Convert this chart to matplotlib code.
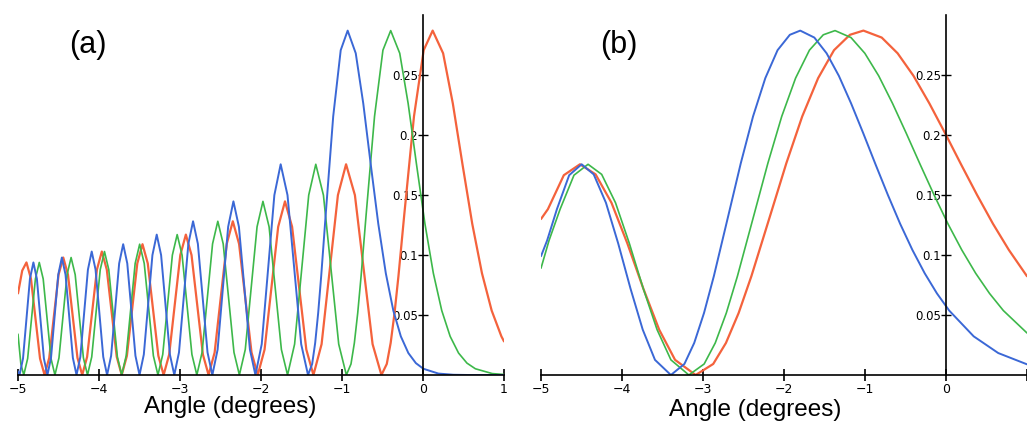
import numpy as np
import matplotlib
matplotlib.use("Agg")
import matplotlib.pyplot as plt

# panel (a)
blue_a_x = [-5.0, -4.9809, -4.9382, -4.8954, -4.8527, -4.8099, -4.7667, -4.7235, -4.6802, -4.6370,
            -4.5924, -4.5478, -4.5031, -4.4585, -4.4132, -4.3680, -4.3227, -4.2774,
            -4.2305, -4.1837, -4.1368, -4.0900, -4.0425, -3.9951, -3.9476, -3.9001,
            -3.8504, -3.8008, -3.7511, -3.7015, -3.6510, -3.6006, -3.5501, -3.4997,
            -3.4466, -3.3936, -3.3405, -3.2874, -3.2332, -3.1789, -3.1247, -3.0704,
            -3.0125, -2.9546, -2.8967, -2.8388, -2.7793, -2.7197, -2.6602, -2.6006,
            -2.5356, -2.4706, -2.4055, -2.3405, -2.2726, -2.2047, -2.1368, -2.0689,
            -1.9910, -1.9131, -1.8351, -1.7572, -1.6728, -1.5884, -1.5039, -1.4195,
            -1.3683, -1.3312, -1.2941, -1.2570, -1.2014, -1.1086, -1.0158, -0.9301, -0.8303, -0.7375,
            -0.6448, -0.5520, -0.4592, -0.3665, -0.2737, -0.1809, -0.0882, 0.0046, 0.1901, 0.3756, 0.5612, 1.0]
blue_a_y = [0.003, 0.0, 0.0137, 0.0469, 0.0801, 0.0938, 0.0801, 0.0469, 0.0137, 0.0,
            0.0143, 0.0490, 0.0836, 0.0979, 0.0836, 0.0490, 0.0143, 0.0,
            0.0151, 0.0515, 0.0878, 0.1029, 0.0878, 0.0515, 0.0151, 0.0,
            0.0160, 0.0545, 0.0930, 0.1090, 0.0930, 0.0545, 0.0160, 0.0,
            0.0171, 0.0585, 0.0999, 0.1170, 0.0999, 0.0585, 0.0171, 0.0,
            0.0188, 0.0641, 0.1093, 0.1281, 0.1093, 0.0641, 0.0188, 0.0,
            0.0212, 0.0724, 0.1235, 0.1447, 0.1235, 0.0724, 0.0212, 0.0,
            0.0257, 0.0878, 0.1499, 0.1756, 0.1499, 0.0878, 0.0257, 0.0,
            0.0092, 0.0267, 0.0517, 0.0823, 0.1336, 0.2155, 0.2707, 0.2870, 0.2681, 0.2263,
            0.1753, 0.1260, 0.0848, 0.0537, 0.0322, 0.0183, 0.0099, 0.0052, 0.0012, 0.0002, 0.0, 0.0]

green_a_x = [-5.0, -4.9644, -4.9287, -4.8809, -4.8331, -4.7852, -4.7374, -4.6890, -4.6407, -4.5924, -4.5440,
             -4.4941, -4.4443, -4.3944, -4.3445, -4.2939, -4.2433, -4.1926, -4.1420,
             -4.0896, -4.0372, -3.9848, -3.9324, -3.8793, -3.8262, -3.7731, -3.7200,
             -3.6645, -3.6090, -3.5535, -3.4980, -3.4416, -3.3852, -3.3287, -3.2723,
             -3.2130, -3.1536, -3.0943, -3.0349, -2.9742, -2.9136, -2.8529, -2.7922,
             -2.7275, -2.6628, -2.5980, -2.5333, -2.4667, -2.4001, -2.3335, -2.2669,
             -2.1942, -2.1215, -2.0487, -1.9760, -1.9001, -1.8242, -1.7482, -1.6723,
             -1.5852, -1.4980, -1.4109, -1.3237, -1.2293, -1.1349, -1.0405, -0.9461,
             -0.8889, -0.8474, -0.8059, -0.7644, -0.7021, -0.5984, -0.4947, -0.3988, -0.2872, -0.1835,
             -0.0797, 0.0240, 0.1277, 0.2315, 0.3352, 0.4389, 0.5427, 0.6464, 0.8539, 1.0]
green_a_y = [0.034, 0.009, 0.0, 0.0137, 0.0469, 0.0801, 0.0938, 0.0801, 0.0469, 0.0137, 0.0,
             0.0143, 0.0490, 0.0836, 0.0979, 0.0836, 0.0490, 0.0143, 0.0,
             0.0151, 0.0515, 0.0878, 0.1029, 0.0878, 0.0515, 0.0151, 0.0,
             0.0160, 0.0545, 0.0930, 0.1090, 0.0930, 0.0545, 0.0160, 0.0,
             0.0171, 0.0585, 0.0999, 0.1170, 0.0999, 0.0585, 0.0171, 0.0,
             0.0188, 0.0641, 0.1093, 0.1281, 0.1093, 0.0641, 0.0188, 0.0,
             0.0212, 0.0724, 0.1235, 0.1447, 0.1235, 0.0724, 0.0212, 0.0,
             0.0257, 0.0878, 0.1499, 0.1756, 0.1499, 0.0878, 0.0257, 0.0,
             0.0092, 0.0267, 0.0517, 0.0823, 0.1336, 0.2155, 0.2707, 0.2870, 0.2681, 0.2263,
             0.1753, 0.1260, 0.0848, 0.0537, 0.0322, 0.0183, 0.0099, 0.0052, 0.0012, 0.0004]

red_a_x = [-5.0, -4.948, -4.8956, -4.8397, -4.7839, -4.7280, -4.6721,
           -4.6144, -4.5568, -4.4991, -4.4414, -4.3829, -4.3244, -4.2658, -4.2073,
           -4.1468, -4.0862, -4.0257, -3.9651, -3.9037, -3.8424, -3.7810, -3.7196,
           -3.6555, -3.5913, -3.5272, -3.4630, -3.3978, -3.3326, -3.2673, -3.2021,
           -3.1335, -3.0649, -2.9963, -2.9277, -2.8576, -2.7875, -2.7173, -2.6472,
           -2.5724, -2.4976, -2.4227, -2.3479, -2.2709, -2.1940, -2.1170, -2.0400,
           -1.9560, -1.8719, -1.7879, -1.7038, -1.6160, -1.5283, -1.4405, -1.3527,
           -1.2520, -1.1513, -1.0505, -0.9498, -0.8407, -0.7316, -0.6224, -0.5133,
           -0.4472, -0.3992, -0.3512, -0.3033, -0.2313, -0.1114, 0.0085, 0.1193,
           0.2483, 0.3682, 0.4881, 0.6080, 0.7279, 0.8478, 0.9677, 1.0]
red_a_y = [0.068, 0.087, 0.0938, 0.0801, 0.0469, 0.0137, 0.0,
           0.0143, 0.0490, 0.0836, 0.0979, 0.0836, 0.0490, 0.0143, 0.0,
           0.0151, 0.0515, 0.0878, 0.1029, 0.0878, 0.0515, 0.0151, 0.0,
           0.0160, 0.0545, 0.0930, 0.1090, 0.0930, 0.0545, 0.0160, 0.0,
           0.0171, 0.0585, 0.0999, 0.1170, 0.0999, 0.0585, 0.0171, 0.0,
           0.0188, 0.0641, 0.1093, 0.1281, 0.1093, 0.0641, 0.0188, 0.0,
           0.0212, 0.0724, 0.1235, 0.1447, 0.1235, 0.0724, 0.0212, 0.0,
           0.0257, 0.0878, 0.1499, 0.1756, 0.1499, 0.0878, 0.0257, 0.0,
           0.0092, 0.0267, 0.0517, 0.0823, 0.1336, 0.2155, 0.2707, 0.2870,
           0.2681, 0.2263, 0.1753, 0.1260, 0.0848, 0.0537, 0.0322, 0.0280]

# panel (b)
blue_b_x = [-5.0, -4.9245, -4.8035, -4.6521, -4.4984, -4.3494, -4.1981, -4.0468, -3.8954, -3.7441,
            -3.5928, -3.3966, -3.2295, -3.1085, -2.9874, -2.8663, -2.6847, -2.5334, -2.3821, -2.2307,
            -2.0794, -1.9280, -1.7997, -1.6254, -1.4740, -1.3227, -1.1714, -1.0200, -0.8687, -0.7173,
            -0.5660, -0.4147, -0.2633, -0.1120, 0.0394, 0.3420, 0.6447, 1.0]
blue_b_y = [0.099, 0.1121, 0.1382, 0.1665, 0.1756, 0.1672, 0.1435, 0.1096, 0.0721, 0.0378,
            0.0126, 0.0, 0.0092, 0.0267, 0.0517, 0.0823, 0.1336, 0.1765, 0.2155, 0.2474,
            0.2707, 0.2835, 0.2870, 0.2812, 0.2681, 0.2493, 0.2263, 0.2012, 0.1753, 0.1500,
            0.1260, 0.1042, 0.0848, 0.0680, 0.0537, 0.0322, 0.0183, 0.0089]

green_b_x = [-5.0, -4.9008, -4.7640, -4.5930, -4.4193, -4.2510, -4.0800, -3.9090, -3.7380, -3.5670,
             -3.3960, -3.1744, -2.9856, -2.8488, -2.7120, -2.5752, -2.3700, -2.1990, -2.0280, -1.8570,
             -1.6860, -1.5150, -1.3700, -1.1730, -1.0020, -0.8310, -0.6600, -0.4890, -0.3180, -0.1470,
             0.0240, 0.1950, 0.3660, 0.5370, 0.7080, 1.0]
green_b_y = [0.089, 0.1121, 0.1382, 0.1665, 0.1756, 0.1672, 0.1435, 0.1096, 0.0721, 0.0378,
             0.0126, 0.0, 0.0092, 0.0267, 0.0517, 0.0823, 0.1336, 0.1765, 0.2155, 0.2474,
             0.2707, 0.2835, 0.2870, 0.2812, 0.2681, 0.2493, 0.2263, 0.2012, 0.1753, 0.1500,
             0.1260, 0.1042, 0.0848, 0.0680, 0.0537, 0.0350]

red_b_x = [-5.0, -4.9147, -4.7184, -4.5190, -4.3259, -4.1297, -3.9335, -3.7372, -3.5410, -3.3448,
           -3.0904, -2.8738, -2.7168, -2.5598, -2.4028, -2.1673, -1.9711, -1.7749, -1.5786, -1.3824,
           -1.1861, -1.0197, -0.7937, -0.5974, -0.4012, -0.2050, -0.0087, 0.1875, 0.3838, 0.5800,
           0.7762, 1.0]
red_b_y = [0.130, 0.1382, 0.1665, 0.1756, 0.1672, 0.1435, 0.1096, 0.0721, 0.0378, 0.0126,
           0.0, 0.0092, 0.0267, 0.0517, 0.0823, 0.1336, 0.1765, 0.2155, 0.2474, 0.2707,
           0.2835, 0.2870, 0.2812, 0.2681, 0.2493, 0.2263, 0.2012, 0.1753, 0.1500, 0.1260,
           0.1042, 0.0823]

xticks = [-5, -4, -3, -2, -1, 0, 1]
xtick_labels_a = ['\u22125', '\u22124', '\u22123', '\u22122', '\u22121', '0', '1']
xtick_labels_b = ['\u22125', '\u22124', '\u22123', '\u22122', '\u22121', '0', '']
yticks = [0.05, 0.1, 0.15, 0.2, 0.25]
ytick_labels = ['0.05', '0.1', '0.15', '0.2', '0.25']

c_blue = '#3b68d6'
c_green = '#3db84a'
c_red = '#f4623c'

fig = plt.figure(figsize=(10.27, 4.24), dpi=100)
ax1 = fig.add_axes([18/1027, 49/424, 486/1027, 360/424])
ax2 = fig.add_axes([541/1027, 49/424, 486/1027, 360/424])

kw = dict(solid_joinstyle='round', solid_capstyle='round')
ax1.plot(red_a_x, red_a_y, color=c_red, lw=1.6, **kw)
ax1.plot(green_a_x, green_a_y, color=c_green, lw=1.2, **kw)
ax1.plot(blue_a_x, blue_a_y, color=c_blue, lw=1.4, **kw)

ax2.plot(red_b_x, red_b_y, color=c_red, lw=1.6, **kw)
ax2.plot(green_b_x, green_b_y, color=c_green, lw=1.2, **kw)
ax2.plot(blue_b_x, blue_b_y, color=c_blue, lw=1.4, **kw)

for ax, xl in ((ax1, xtick_labels_a), (ax2, xtick_labels_b)):
    ax.set_xlim(-5, 1)
    ax.set_ylim(0, 0.3)
    ax.patch.set_alpha(0)
    ax.spines['top'].set_visible(False)
    ax.spines['right'].set_visible(False)
    ax.spines['left'].set_position(('data', 0))
    ax.spines['left'].set_linewidth(1.2)
    ax.spines['bottom'].set_linewidth(1.2)
    ax.set_xticks(xticks)
    ax.set_xticklabels(xl)
    ax.set_yticks(yticks)
    ax.set_yticklabels(ytick_labels)
    ax.tick_params(axis='x', direction='inout', length=9, width=1.2, labelsize=9, pad=1)
    ax.tick_params(axis='y', direction='inout', length=7, width=1.0, labelsize=8.5, pad=0)
    for sp in ax.spines.values():
        sp.set_clip_on(False)

fig.text(0.0857, 0.894, '(a)', fontsize=22, family='Liberation Sans', ha='center', va='center')
fig.text(0.603, 0.894, '(b)', fontsize=22, family='Liberation Sans', ha='center', va='center')
fig.text(0.224, 0.040, 'Angle (degrees)', fontsize=17.5, family='Liberation Sans', ha='center', va='center')
fig.text(0.735, 0.033, 'Angle (degrees)', fontsize=17.5, family='Liberation Sans', ha='center', va='center')

fig.savefig('out.png', dpi=100)
